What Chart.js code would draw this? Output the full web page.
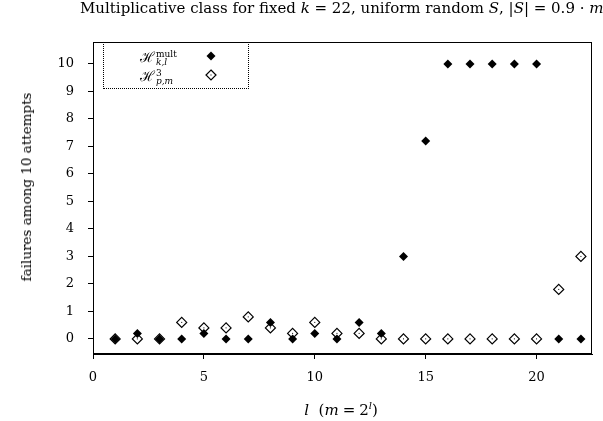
<!DOCTYPE html>
<html>
<head>
<meta charset="utf-8">
<script src="https://cdn.jsdelivr.net/npm/chart.js@4/dist/chart.umd.min.js"></script>
<style>
  html, body { margin: 0; padding: 0; background: #fff; }
  #wrap { position: relative; width: 603px; height: 421px; overflow: hidden;
          font-family: "DejaVu Serif", serif; color: #000; }
  canvas { position: absolute; left: 0; top: 0; }
  .txt { position: absolute; white-space: nowrap; font-size: 13.5px; }
  .it { font-style: italic; }
  #title { left: 80px; top: -1px; font-size: 15px; }
  #xtitle { left: 341px; top: 400px; transform: translateX(-50%); font-size: 15px; }
  #xtitle .op { margin: 0 4px; }
  #ytitle { left: 26px; top: 187px; transform: translate(-50%, -50%) rotate(-90deg); }
  #legend { position: absolute; left: 103px; top: 42px; width: 146px; height: 47px;
            border: 1px dotted #000; box-sizing: border-box; }
  .lg { position: absolute; font-size: 14px; }
  .ss { display: inline-block; vertical-align: middle; line-height: 8px; font-size: 9px;
        text-align: left; margin-left: 1px; }
</style>
</head>
<body>
<div id="wrap">
  <canvas id="c" width="603" height="421"></canvas>
  <div class="txt" id="title">Multiplicative class for fixed <span class="it">k</span> = 22, uniform random <span class="it">S</span>, |<span class="it">S</span>| = 0.9 · <span class="it">m</span></div>
  <div class="txt" id="xtitle"><span class="it">l</span>&nbsp; (<span class="it">m</span><span class="op">=</span>2<sup style="font-size:10px" class="it">l</sup>)</div>
  <div class="txt" id="ytitle">failures among 10 attempts</div>
  <div id="legend">
    <div class="lg" style="left:36px; top:4px;">ℋ<span class="ss"><span>mult</span><br><span class="it">k,l</span></span></div>
    <div class="lg" style="left:36px; top:23px;">ℋ<span class="ss"><span>3</span><br><span class="it">p,m</span></span></div>
  </div>
</div>
<script>
const lValues = [1, 2, 3, 4, 5, 6, 7, 8, 9, 10, 11, 12, 13, 14, 15, 16, 17, 18, 19, 20, 21, 22];
const multFailures = [0, 0.2, 0, 0, 0.2, 0, 0, 0.6, 0, 0.2, 0, 0.6, 0.2, 3, 7.2, 10, 10, 10, 10, 10, 0, 0];
const h3Failures = [0, 0, 0, 0.6, 0.4, 0.4, 0.8, 0.4, 0.2, 0.6, 0.2, 0.2, 0, 0, 0, 0, 0, 0, 0, 0, 1.8, 3];
const xTicks = [0, 5, 10, 15, 20];
const yTicks = [0, 1, 2, 3, 4, 5, 6, 7, 8, 9, 10];
const legendMarkers = [{ y: 56 }, { y: 75 }];

(function () {
  function init() {
    const Chart = window.Chart;
    const canvas = document.getElementById('c');
    if (!Chart || !canvas) return;
    const ctx = canvas.getContext('2d');

    const pts = (ys) => lValues.map((x, i) => ({ x, y: ys[i] }));

    function diamond(c, x, y, r, filled) {
      c.beginPath();
      c.moveTo(x, y - r); c.lineTo(x + r, y); c.lineTo(x, y + r); c.lineTo(x - r, y);
      c.closePath();
      if (filled) { c.fillStyle = '#000'; c.fill(); }
      else { c.fillStyle = '#fff'; c.fill(); c.lineWidth = 1.2; c.stroke(); c.fillStyle = '#000'; c.fillRect(x - 0.5, y - 0.5, 1, 1); }
    }

    // frame round the plot area, centre dots on open diamonds, legend markers
    const framePlugin = {
      id: 'frame',
      afterDatasetDraw(chart, args) {
        if (args.index !== 0) return;
        const c = chart.ctx;
        c.save();
        c.fillStyle = '#000';
        args.meta.data.forEach((p) => c.fillRect(p.x - 0.5, p.y - 0.5, 1, 1));
        c.restore();
      },
      afterDraw(chart) {
        const a = chart.chartArea;
        const c = chart.ctx;
        c.save();
        c.strokeStyle = '#000';
        c.lineWidth = 1;
        c.strokeRect(Math.round(a.left) + 0.5, Math.round(a.top) + 0.5,
          Math.round(a.right - a.left) - 1, Math.round(a.bottom - a.top) - 1);
        legendMarkers.forEach((m, i) => diamond(c, 211, m.y, i === 0 ? 4.5 : 5, i === 0));
        c.restore();
      }
    };

    const tickFont = { family: 'DejaVu Serif', size: 13 };

    // eslint-disable-next-line no-new
    new Chart(ctx, {
      type: 'scatter',
      data: {
        datasets: [
          {
            label: 'H3',
            data: pts(h3Failures),
            pointStyle: 'rectRot',
            pointRadius: 5,
            pointBackgroundColor: '#fff',
            pointBorderColor: '#000',
            pointBorderWidth: 1.2,
            order: 2
          },
          {
            label: 'mult',
            data: pts(multFailures),
            pointStyle: 'rectRot',
            pointRadius: 4.5,
            pointBackgroundColor: '#000',
            pointBorderColor: '#000',
            pointBorderWidth: 0,
            order: 1
          }
        ]
      },
      options: {
        responsive: false,
        animation: false,
        events: [],
        layout: { padding: { top: 42, right: 11, left: 0, bottom: 0 } },
        plugins: {
          legend: { display: false },
          tooltip: { enabled: false },
          title: { display: false }
        },
        scales: {
          x: {
            type: 'linear',
            min: 0,
            max: 22.5,
            afterBuildTicks: (s) => { s.ticks = xTicks.map((v) => ({ value: v })); },
            afterFit: (s) => { s.height = 67; },
            grid: { drawOnChartArea: false, tickLength: 5, color: '#000' },
            border: { color: '#000' },
            ticks: { color: '#000', padding: 11, font: tickFont }
          },
          y: {
            min: -0.55,
            max: 10.8,
            afterBuildTicks: (s) => { s.ticks = yTicks.map((v) => ({ value: v })); },
            afterFit: (s) => { s.width = 93; },
            grid: { drawOnChartArea: false, tickLength: 5, color: '#000' },
            border: { color: '#000' },
            ticks: { color: '#000', padding: 14, font: tickFont }
          }
        }
      },
      plugins: [framePlugin]
    });
  }

  if (document.readyState === 'loading') {
    document.addEventListener('DOMContentLoaded', init);
  } else {
    init();
  }
})();
</script>
</body>
</html>
